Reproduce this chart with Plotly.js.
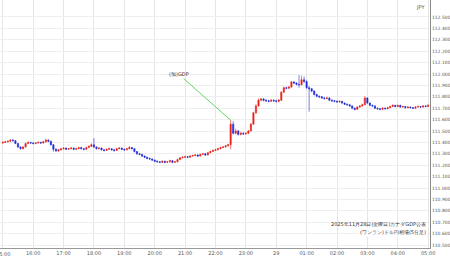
<!DOCTYPE html>
<html><head><meta charset="utf-8">
<script src="https://cdn.plot.ly/plotly-3.0.1.min.js"></script>
<style>html,body{margin:0;padding:0;background:#fff;}#chart{width:450px;height:258px;}</style>
</head><body><div id="chart"></div>
<script>
const startTime = '2025-11-28 15:00';
const openP = [111.395,111.400,111.405,111.410,111.420,111.415,111.390,111.360,111.345,111.360,111.390,111.400,
111.395,111.390,111.395,111.400,111.395,111.405,111.420,111.410,111.380,111.340,111.325,111.335,
111.345,111.350,111.340,111.345,111.350,111.340,111.345,111.355,111.345,111.340,111.355,111.365,
111.380,111.360,111.345,111.350,111.335,111.330,111.340,111.345,111.335,111.330,111.345,111.350,
111.340,111.335,111.345,111.355,111.345,111.320,111.300,111.295,111.280,111.270,111.260,111.255,
111.245,111.235,111.230,111.225,111.235,111.225,111.230,111.240,111.225,111.230,111.250,111.265,
111.270,111.275,111.270,111.280,111.285,111.290,111.280,111.295,111.300,111.290,111.310,111.320,
111.330,111.335,111.345,111.355,111.360,111.370,111.380,111.560,111.480,111.500,111.470,111.480,
111.475,111.480,111.500,111.560,111.660,111.720,111.770,111.780,111.770,111.765,111.760,111.770,
111.765,111.760,111.770,111.840,111.880,111.875,111.885,111.930,111.920,111.910,111.905,111.950,
111.935,111.880,111.870,111.850,111.820,111.805,111.800,111.790,111.785,111.790,111.770,111.765,
111.760,111.755,111.760,111.745,111.735,111.730,111.720,111.700,111.690,111.710,111.720,111.730,
111.790,111.745,111.725,111.720,111.700,111.695,111.690,111.700,111.695,111.705,111.715,111.725,
111.715,111.725,111.710,111.715,111.705,111.710,111.705,111.700,111.710,111.715,111.710,111.720,
111.715];
const highP = [111.410,111.412,111.418,111.428,111.430,111.420,111.395,111.365,111.368,111.398,111.408,111.405,
111.402,111.403,111.410,111.406,111.412,111.432,111.428,111.415,111.385,111.348,111.342,111.352,
111.358,111.355,111.352,111.360,111.355,111.353,111.362,111.360,111.350,111.362,111.375,111.392,
111.438,111.365,111.358,111.355,111.342,111.348,111.355,111.350,111.340,111.352,111.360,111.355,
111.346,111.352,111.368,111.360,111.350,111.325,111.308,111.300,111.286,111.276,111.266,111.260,
111.250,111.242,111.236,111.242,111.240,111.238,111.248,111.245,111.238,111.258,111.272,111.278,
111.283,111.280,111.288,111.292,111.298,111.295,111.302,111.308,111.305,111.318,111.328,111.338,
111.342,111.352,111.362,111.368,111.378,111.388,111.595,111.585,111.520,111.510,111.495,111.490,
111.490,111.510,111.570,111.670,111.735,111.785,111.790,111.788,111.778,111.775,111.780,111.778,
111.772,111.780,111.850,111.890,111.888,111.895,111.940,111.938,111.928,111.990,111.985,111.978,
111.945,111.895,111.878,111.855,111.828,111.812,111.808,111.798,111.800,111.795,111.778,111.772,
111.768,111.768,111.765,111.750,111.742,111.736,111.725,111.706,111.718,111.728,111.740,111.805,
111.795,111.750,111.732,111.726,111.706,111.700,111.708,111.706,111.712,111.722,111.734,111.730,
111.732,111.730,111.722,111.720,111.718,111.715,111.710,111.718,111.722,111.720,111.728,111.725,
111.735];
const lowP = [111.388,111.395,111.400,111.405,111.408,111.385,111.352,111.338,111.340,111.355,111.385,111.388,
111.383,111.385,111.390,111.388,111.390,111.400,111.402,111.372,111.320,111.318,111.320,111.330,
111.338,111.333,111.335,111.340,111.332,111.335,111.340,111.338,111.330,111.335,111.350,111.360,
111.352,111.338,111.340,111.328,111.320,111.325,111.335,111.328,111.318,111.325,111.340,111.332,
111.325,111.330,111.340,111.338,111.312,111.292,111.288,111.272,111.262,111.252,111.248,111.238,
111.228,111.222,111.218,111.220,111.218,111.220,111.225,111.218,111.220,111.226,111.245,111.260,
111.265,111.262,111.266,111.275,111.280,111.272,111.276,111.290,111.282,111.286,111.305,111.315,
111.325,111.330,111.340,111.350,111.355,111.365,111.340,111.470,111.470,111.460,111.462,111.465,
111.468,111.472,111.495,111.555,111.650,111.712,111.760,111.760,111.755,111.752,111.755,111.755,
111.750,111.752,111.765,111.835,111.866,111.868,111.880,111.912,111.900,111.880,111.900,111.920,
111.870,111.670,111.840,111.812,111.795,111.790,111.782,111.776,111.778,111.762,111.756,111.752,
111.748,111.748,111.738,111.728,111.722,111.712,111.692,111.680,111.685,111.705,111.715,111.725,
111.738,111.718,111.712,111.692,111.686,111.682,111.685,111.688,111.690,111.700,111.710,111.708,
111.710,111.703,111.705,111.698,111.700,111.698,111.693,111.695,111.705,111.703,111.705,111.708,
111.710];
const closeP = [111.400,111.405,111.410,111.420,111.415,111.390,111.360,111.345,111.360,111.390,111.400,111.395,
111.390,111.395,111.400,111.395,111.405,111.420,111.410,111.380,111.340,111.325,111.335,111.345,
111.350,111.340,111.345,111.350,111.340,111.345,111.355,111.345,111.340,111.355,111.365,111.380,
111.360,111.345,111.350,111.335,111.330,111.340,111.345,111.335,111.330,111.345,111.350,111.340,
111.335,111.345,111.355,111.345,111.320,111.300,111.295,111.280,111.270,111.260,111.255,111.245,
111.235,111.230,111.225,111.235,111.225,111.230,111.240,111.225,111.230,111.250,111.265,111.270,
111.275,111.270,111.280,111.285,111.290,111.280,111.295,111.300,111.290,111.310,111.320,111.330,
111.335,111.345,111.355,111.360,111.370,111.380,111.560,111.480,111.500,111.470,111.480,111.475,
111.480,111.500,111.560,111.660,111.720,111.770,111.780,111.770,111.765,111.760,111.770,111.765,
111.760,111.770,111.840,111.880,111.875,111.885,111.930,111.920,111.910,111.905,111.950,111.935,
111.880,111.870,111.850,111.820,111.805,111.800,111.790,111.785,111.790,111.770,111.765,111.760,
111.755,111.760,111.745,111.735,111.730,111.720,111.700,111.690,111.710,111.720,111.730,111.790,
111.745,111.725,111.720,111.700,111.695,111.690,111.700,111.695,111.705,111.715,111.725,111.715,
111.725,111.710,111.715,111.705,111.710,111.705,111.700,111.710,111.715,111.710,111.720,111.715,
111.725];
const tickTimes = ['2025-11-28 15:00','2025-11-28 16:00','2025-11-28 17:00','2025-11-28 18:00','2025-11-28 19:00',
'2025-11-28 20:00','2025-11-28 21:00','2025-11-28 22:00','2025-11-28 23:00','2025-11-29 00:00',
'2025-11-29 01:00','2025-11-29 02:00','2025-11-29 03:00','2025-11-29 04:00','2025-11-29 05:00'];
const tickLabels = ['15:00','16:00','17:00','18:00','19:00','20:00','21:00','22:00','23:00','29','01:00','02:00','03:00','04:00','05:00'];
const yTicks = [110.5,110.6,110.7,110.8,110.9,111.0,111.1,111.2,111.3,111.4,111.5,111.6,111.7,111.8,111.9,112.0,112.1,112.2,112.3,112.4,112.5];
const eventLabel = '(加)GDP';
const eventTime = '2025-11-28 22:30';
const noteLines = ['2025年11月28日(金曜日)カナダGDP公表', '(ワンラン)ドル円相場(5分足)'];

const t0 = new Date(startTime.replace(' ', 'T') + ':00Z').getTime();
const times = openP.map((_, i) => new Date(t0 + i * 300000).toISOString().slice(0, 16).replace('T', ' '));

const trace = {
  type: 'candlestick', x: times, open: openP, high: highP, low: lowP, close: closeP,
  increasing: {line: {color: '#e8211b', width: 0.6}, fillcolor: '#e8211b'},
  decreasing: {line: {color: '#1f2bd6', width: 0.6}, fillcolor: '#1f2bd6'},
  whiskerwidth: 0, hoverinfo: 'skip'
};
const layout = {
  width: 450, height: 258,
  margin: {l: 0, r: 20, t: 0, b: 10, pad: 0},
  paper_bgcolor: '#ffffff', plot_bgcolor: '#ffffff',
  showlegend: false,
  font: {family: 'DejaVu Sans, sans-serif', size: 5, color: '#555'},
  xaxis: {
    type: 'date', range: ['2025-11-28 14:54:30', '2025-11-29 05:03:40'],
    rangeslider: {visible: false},
    tickmode: 'array', tickvals: tickTimes, ticktext: tickLabels,
    showgrid: true, gridcolor: '#e6e6e6', gridwidth: 1,
    showline: true, linecolor: '#999', linewidth: 1,
    ticks: '', tickfont: {size: 5, color: '#555'}, zeroline: false
  },
  yaxis: {
    side: 'right', range: [110.474, 112.649],
    tickmode: 'array', tickvals: yTicks, ticktext: yTicks.map(v => v.toFixed(3)),
    showgrid: true, gridcolor: '#eeeeee', gridwidth: 1,
    showline: true, linecolor: '#888', linewidth: 1, mirror: false,
    ticks: '', tickfont: {size: 4.5, color: '#555'}, zeroline: false
  },
  annotations: [
    {xref: 'paper', yref: 'paper', x: 0.978, y: 1, xanchor: 'center', yanchor: 'top', yshift: -2,
      text: 'JPY', showarrow: false, font: {size: 5, color: '#555'}},
    {x: tickTimes[0], xref: 'x', yref: 'paper', y: 0, yanchor: 'top', xanchor: 'center', yshift: -1,
      text: tickLabels[0], showarrow: false, font: {size: 5, color: '#555'}},
    {x: eventTime, y: highP[90], xref: 'x', yref: 'y', text: eventLabel, showarrow: true,
      arrowhead: 0, arrowwidth: 0.8, arrowcolor: '#3cc83c', ax: -52, ay: -46,
      font: {size: 5, color: '#333'}},
    {xref: 'paper', yref: 'paper', x: 0.995, y: 0.075, xanchor: 'right', yanchor: 'bottom',
      text: noteLines[0], showarrow: false, font: {size: 5, color: '#333'}},
    {xref: 'paper', yref: 'paper', x: 0.995, y: 0.045, xanchor: 'right', yanchor: 'bottom',
      text: noteLines[1], showarrow: false, font: {size: 5, color: '#333'}, bgcolor: '#fff'}
  ]
};
Plotly.newPlot('chart', [trace], layout, {displayModeBar: false, staticPlot: true});
</script></body></html>
